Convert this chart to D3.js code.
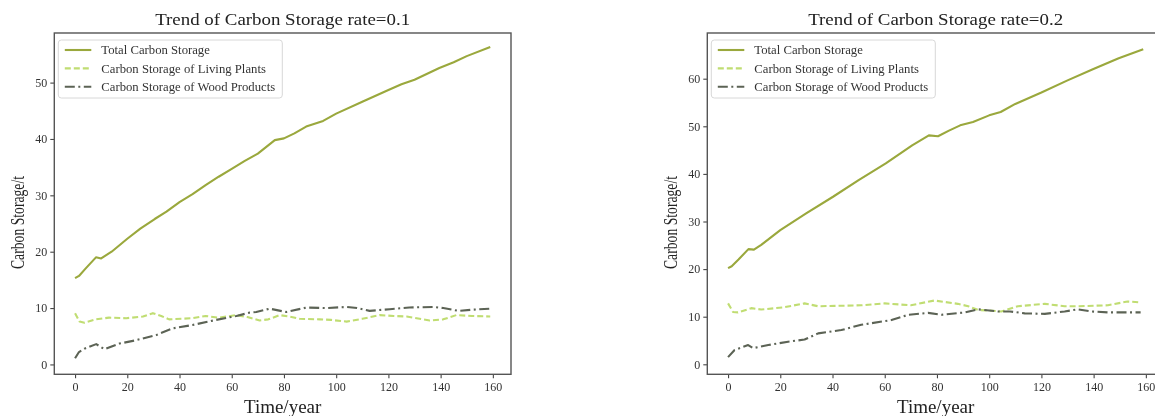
<!DOCTYPE html>
<html><head><meta charset="utf-8">
<script src="https://cdn.jsdelivr.net/npm/d3@7"></script>
<style>
body{margin:0;background:#fff;}
svg{display:block;}
text{font-family:"Liberation Serif","Times New Roman",serif;}
</style>
</head><body>
<svg id="c" width="1155" height="416"></svg>
<script>
// ---- data ----
const titles = ["Trend of Carbon Storage rate=0.1", "Trend of Carbon Storage rate=0.2"];
const seriesNames = ["Total Carbon Storage", "Carbon Storage of Living Plants", "Carbon Storage of Wood Products"];
const xTicks = [0, 20, 40, 60, 80, 100, 120, 140, 160];
const yTicksA = [0, 10, 20, 30, 40, 50];
const yTicksB = [0, 10, 20, 30, 40, 50, 60];

// rate = 0.1
const totalAYears = [0,1.5,4,8,10,14,20,25,30.5,35,40,45,50,55,60,65,70,76.5,80,84,88.5,95,100,110,120,125,130,139.5,145,150,159];
const totalA      = [15.3,15.7,17.0,19.0,18.8,20.0,22.3,24.1,25.8,27.1,28.8,30.2,31.8,33.3,34.7,36.1,37.4,39.8,40.1,41.0,42.2,43.2,44.5,46.6,48.7,49.7,50.5,52.6,53.6,54.7,56.3];
const livingAYears = [0,1.7,3.6,8,13,19.6,26,29.8,33,36,45,50,55,61.8,66,70.7,74,78.4,82,86,93.7,98,104,110,116.7,122,127,135.8,141,146,152,159];
const livingA      = [9.1,7.6,7.4,8.0,8.3,8.2,8.5,9.1,8.6,8.0,8.2,8.6,8.3,8.75,8.4,7.8,8.0,8.75,8.5,8.1,8.0,7.9,7.6,8.1,8.75,8.6,8.5,7.8,8.0,8.75,8.6,8.5];
const woodAYears = [0,1.5,3.6,8.1,11.3,17,23.4,31,37.4,45,54,61.8,66.9,69.4,74.5,80.9,88.6,96.2,104,108,112.8,120.5,128,137,141,147,152,159];
const woodA      = [1.1,2.2,2.8,3.6,2.7,3.7,4.3,5.2,6.4,7.0,7.9,8.6,9.2,9.3,9.9,9.3,10.1,10.0,10.2,10.0,9.5,9.8,10.1,10.2,10.0,9.5,9.7,9.9];

// rate = 0.2
const totalBYears = [0,1.4,4,7.8,9.9,12.7,20,29.9,40.2,50,60.4,70.5,76.9,80.4,84.6,88.9,93.8,100,104.4,110,120,129.8,139.7,149.6,159];
const totalB      = [20.2,20.6,22.0,24.2,24.1,25.1,28.2,31.7,35.2,38.7,42.2,46.0,48.1,47.9,49.1,50.2,50.9,52.3,53.0,54.7,57.1,59.6,62.0,64.3,66.2];
const livingBYears = [0,1.9,3.8,8.9,12.7,21.7,29.3,34.5,43.4,51,60,70,79,88,92,95.8,100,104.6,111,121.3,128.9,134,145.5,153,158];
const livingB      = [12.8,11.0,10.9,11.8,11.5,12.0,12.8,12.2,12.3,12.4,12.8,12.4,13.4,12.7,12.2,11.4,11.3,11.1,12.2,12.7,12.2,12.2,12.4,13.2,13.0];
const woodBYears = [0,2.5,7.7,9.6,15.4,23,29.3,34.5,43.4,51,62.6,69,76.6,81.7,90.6,95.8,103.4,108,113.6,121.3,128.9,134,139.2,145.5,158];
const woodB      = [1.5,3.0,4.05,3.4,4.05,4.75,5.2,6.5,7.2,8.3,9.3,10.4,10.8,10.4,10.9,11.55,11.1,11.1,10.7,10.6,11.1,11.55,11.1,10.9,10.9];

// ---- styling ----
const colors = ["#9aa83c", "#c0dd72", "#5c6355"];
const dashes = [null, "6,3", "10,3.5,2,3.5"];
const FONT = "'Liberation Serif','Times New Roman',serif";

const svg = d3.select("#c");
const defs = svg.append("defs");
defs.append("filter").attr("id", "soft")
  .attr("x", "-2%").attr("y", "-2%").attr("width", "104%").attr("height", "104%")
  .append("feGaussianBlur").attr("stdDeviation", 0.45);
const root = svg.append("g").attr("filter", "url(#soft)");

const plotTop = 33, plotBottom = 374.3, plotW = 456.7;

const panels = [
  { left: 54.3, title: titles[0], yDomain: [-1.75, 58.8], yTicks: yTicksA,
    series: [[totalAYears, totalA], [livingAYears, livingA], [woodAYears, woodA]] },
  { left: 707.3, title: titles[1], yDomain: [-2.1, 69.6], yTicks: yTicksB,
    series: [[totalBYears, totalB], [livingBYears, livingB], [woodBYears, woodB]] }
];

panels.forEach(p => {
  const x = d3.scaleLinear().domain([-7.95, 166.95]).range([p.left, p.left + plotW]);
  const y = d3.scaleLinear().domain(p.yDomain).range([plotBottom, plotTop]);
  const g = root.append("g");

  const line = d3.line().x(d => x(d[0])).y(d => y(d[1]));
  p.series.forEach((s, i) => {
    const pts = s[0].map((yr, k) => [yr, s[1][k]]);
    g.append("path").datum(pts)
      .attr("d", line)
      .attr("fill", "none")
      .attr("stroke", colors[i])
      .attr("stroke-width", 2.1)
      .attr("stroke-linejoin", "round")
      .attr("stroke-dasharray", dashes[i]);
  });

  const xAxis = d3.axisBottom(x).tickValues(xTicks).tickSize(4).tickPadding(4);
  const yAxis = d3.axisLeft(y).tickValues(p.yTicks).tickSize(4).tickPadding(3);
  const gx = g.append("g").attr("transform", `translate(0,${plotBottom})`).call(xAxis);
  const gy = g.append("g").attr("transform", `translate(${p.left},0)`).call(yAxis);
  [gx, gy].forEach(a => {
    a.select(".domain").remove();
    a.selectAll(".tick line").attr("stroke", "#444").attr("stroke-width", 1.1);
    a.selectAll(".tick text").attr("fill", "#333").style("font-family", FONT).style("font-size", "12px");
  });

  g.append("rect")
    .attr("x", p.left).attr("y", plotTop)
    .attr("width", plotW).attr("height", plotBottom - plotTop)
    .attr("fill", "none").attr("stroke", "#555").attr("stroke-width", 1.4);

  const cx = p.left + plotW / 2;
  g.append("text")
    .attr("transform", `translate(${cx},25) scale(1.08,1)`)
    .attr("text-anchor", "middle")
    .attr("fill", "#222")
    .style("font-size", "17.5px")
    .text(p.title);

  g.append("text")
    .attr("x", cx).attr("y", 413)
    .attr("text-anchor", "middle")
    .attr("fill", "#222")
    .style("font-size", "19px")
    .text("Time/year");

  g.append("text")
    .attr("transform", `translate(${p.left - 30.5},222.5) rotate(-90) scale(0.72,1)`)
    .attr("text-anchor", "middle")
    .attr("fill", "#222")
    .style("font-size", "19px")
    .text("Carbon Storage/t");

  const lg = g.append("g").attr("transform", `translate(${p.left + 4},40)`);
  lg.append("rect").attr("width", 224).attr("height", 58).attr("rx", 3)
    .attr("fill", "#fff").attr("fill-opacity", 0.8)
    .attr("stroke", "#d8d8d8").attr("stroke-width", 1);
  seriesNames.forEach((name, i) => {
    const cy = 10 + i * 18.4;
    lg.append("line").attr("x1", 6.5).attr("x2", 33)
      .attr("y1", cy).attr("y2", cy)
      .attr("stroke", colors[i]).attr("stroke-width", 2.1)
      .attr("stroke-dasharray", dashes[i]);
    lg.append("text")
      .attr("transform", `translate(43,${cy}) scale(1.06,1)`)
      .attr("dy", "0.35em")
      .attr("fill", "#333")
      .style("font-size", "12px")
      .text(name);
  });
});
</script>
</body></html>
